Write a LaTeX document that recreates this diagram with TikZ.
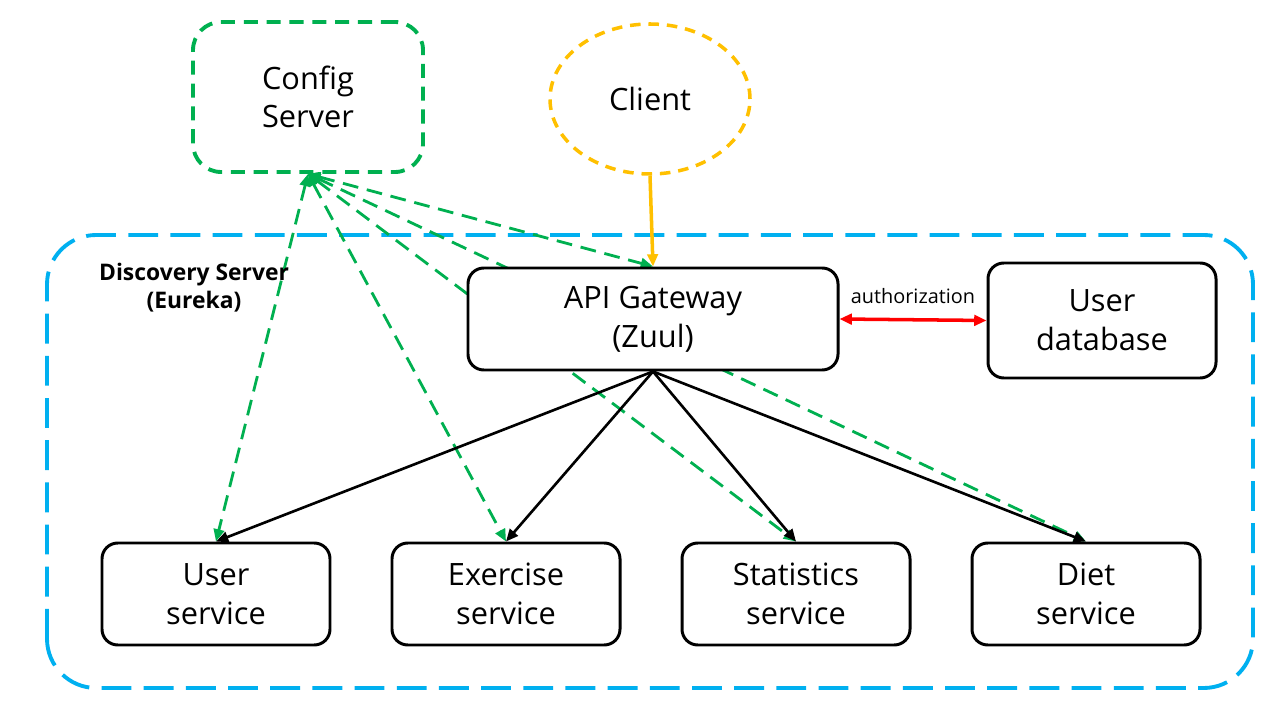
\documentclass[tikz,border=0pt]{standalone}
\usepackage{fontspec}
\setmainfont{Open Sans}
\usetikzlibrary{arrows.meta,positioning,shapes.geometric,backgrounds}
\definecolor{cfggreen}{RGB}{0,176,80}
\definecolor{eurblue}{RGB}{0,176,240}
\definecolor{cliyellow}{RGB}{255,192,0}

\begin{document}
\begin{tikzpicture}[
  font=\fontsize{17.5}{22}\selectfont,
  >={Triangle[length=7pt,width=6pt]},
  box/.style={draw=black,line width=1.7pt,fill=white,rounded corners=9pt,align=center,
              minimum width=4.56cm,minimum height=2.04cm},
  gw/.style={box,minimum width=7.4cm},
  cfg/.style={draw=cfggreen,line width=2.2pt,dash pattern=on 8pt off 5pt,fill=white,
              rounded corners=16pt,align=center,minimum width=4.6cm,minimum height=3.0cm},
  cli/.style={ellipse,draw=cliyellow,line width=2pt,dash pattern=on 6pt off 4.5pt,fill=white,
              minimum width=4.0cm,minimum height=3.0cm,inner sep=0pt},
  frame/.style={draw=eurblue,line width=2.2pt,dash pattern=on 17pt off 7pt,rounded corners=28pt},
  cfgline/.style={<->,draw=cfggreen,line width=1.6pt,dash pattern=on 9pt off 5pt},
  call/.style={->,draw=black,line width=1.5pt},
]
\useasboundingbox (0,0) rectangle (25.6,14.4);

% ---- top ----
\node[cfg] (CFG) at (6.16,12.46) {Config\\Server};
\node[cli] (CLI) at (13.0,12.42) {Client};

% ---- inside eureka ----
\node[gw] (GW) at (13.06,8.02) {API Gateway\\(Zuul)};
\node[box,minimum height=2.3cm] (UDB) at (22.04,7.99) {User\\database};
\node[box] (US) at (4.32,2.52) {User\\service};
\node[box] (ES) at (10.12,2.52) {Exercise\\service};
\node[box] (SS) at (15.92,2.52) {Statistics\\service};
\node[box] (DS) at (21.72,2.52) {Diet\\service};
\node[font=\fontsize{13}{16}\selectfont\bfseries,align=center] (EUR) at (3.88,8.64)
  {Discovery Server\\(Eureka)};

% ---- config links (behind the boxes) ----
\begin{scope}[on background layer]
\draw[frame] (0.94,0.64) rectangle (25.06,9.7);
\foreach \s in {US,ES,SS,DS,GW} \draw[cfgline] (CFG.south) -- (\s.north);
\end{scope}

% ---- calls ----
\draw[->,draw=cliyellow,line width=2pt] (CLI.south) -- (GW.north);
\foreach \s in {US,ES,SS,DS} \draw[call] (GW.south) -- (\s.north);
\draw[<->,draw=red,line width=2pt] (GW.east) -- (UDB.west)
  node[midway,above=5pt,font=\fontsize{11.3}{13}\selectfont]{authorization};
\end{tikzpicture}
\end{document}
